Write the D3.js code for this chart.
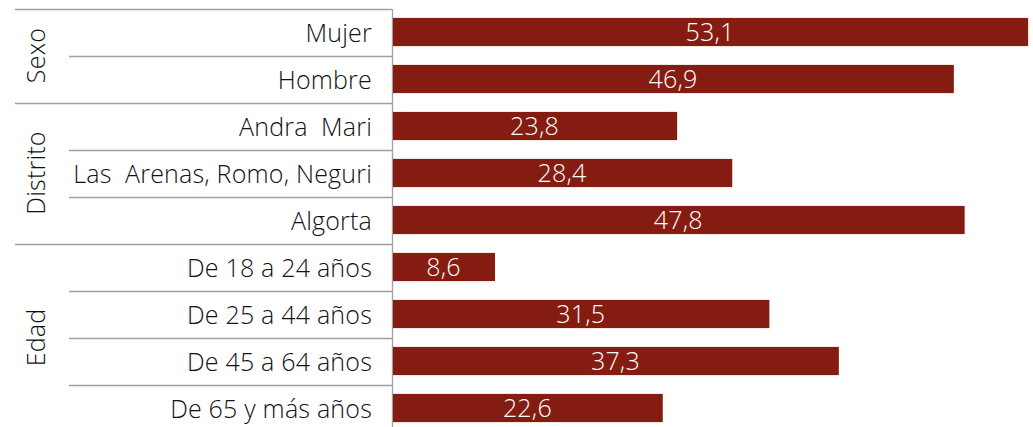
<!DOCTYPE html>
<html>
<head>
<meta charset="utf-8">
<script src="https://cdn.jsdelivr.net/npm/d3@7"></script>
<style>
  body { margin: 0; background: #fff; }
  text { font-family: "Open Sans", "Noto Sans", sans-serif; font-weight: 300; white-space: pre; letter-spacing: 0.2px; }
</style>
</head>
<body>
<div id="chart"></div>
<script>
var groups = ["Sexo", "Distrito", "Edad"];
var categories = ["Mujer", "Hombre", "Andra  Mari", "Las  Arenas, Romo, Neguri", "Algorta",
    "De 18 a 24 años", "De 25 a 44 años", "De 45 a 64 años", "De 65 y más años"];
var categoryGroup = ["Sexo", "Sexo", "Distrito", "Distrito", "Distrito", "Edad", "Edad", "Edad", "Edad"];
var values = [53.1, 46.9, 23.8, 28.4, 47.8, 8.6, 31.5, 37.3, 22.6];

var width = 1033, height = 427,
    axisX = 392,
    topY = 8.5,
    rowH = 47,
    fontSize = "25px";

var svg = d3.select("#chart").append("svg")
    .attr("width", width)
    .attr("height", height);

var x = d3.scaleLinear()
    .domain([0, 53.1])
    .range([axisX, axisX + 53.1 * 11.98]);

var y = d3.scaleBand()
    .domain(categories)
    .range([topY, topY + rowH * categories.length])
    .paddingInner(0.4)
    .paddingOuter(0.2);

var lineColor = "#a0a0a0";

// separators between rows (short) and between groups (long)
var gLines = svg.append("g");
categories.forEach(function(c, i) {
    var yy = Math.round(topY + i * rowH) + 0.5;
    var first = i == 0 || categoryGroup[i] != categoryGroup[i - 1];
    gLines.append("line")
        .attr("x1", first ? 15 : 69)
        .attr("x2", axisX)
        .attr("y1", yy).attr("y2", yy)
        .attr("stroke", lineColor)
        .attr("stroke-width", 1.3);
});
gLines.append("line")
    .attr("x1", axisX + 0.5).attr("x2", axisX + 0.5)
    .attr("y1", Math.round(topY)).attr("y2", height)
    .attr("stroke", lineColor)
    .attr("stroke-width", 1.3);

// bars
svg.append("g").selectAll("rect")
    .data(categories)
    .enter().append("rect")
    .attr("x", x(0) + 1)
    .attr("y", function(d) { return y(d); })
    .attr("width", function(d, i) { return x(values[i]) - x(0) - 1; })
    .attr("height", y.bandwidth())
    .attr("fill", "#851c11");

// value labels
svg.append("g").selectAll("text")
    .data(categories)
    .enter().append("text")
    .attr("x", function(d, i) { return (x(0) + x(values[i])) / 2; })
    .attr("y", function(d) { return y(d) + y.bandwidth() / 2; })
    .attr("dy", "0.37em")
    .attr("text-anchor", "middle")
    .attr("fill", "#fff")
    .style("font-size", fontSize)
    .text(function(d, i) { return d3.format(".1f")(values[i]).replace(".", ","); });

// category labels
svg.append("g").selectAll("text")
    .data(categories)
    .enter().append("text")
    .attr("x", axisX - 20)
    .attr("y", function(d) { return y(d) + y.bandwidth() / 2; })
    .attr("dy", "0.38em")
    .attr("text-anchor", "end")
    .attr("fill", "#111")
    .style("font-size", fontSize)
    .text(function(d) { return d; });

// group labels, rotated
groups.forEach(function(g) {
    var idx = categories.filter(function(c, i) { return categoryGroup[i] == g; });
    var y0 = topY + categories.indexOf(idx[0]) * rowH;
    var y1 = y0 + idx.length * rowH;
    var cy = (y0 + y1) / 2;
    svg.append("text")
        .attr("transform", "translate(45," + cy + ") rotate(-90)")
        .attr("text-anchor", "middle")
        .attr("fill", "#111")
        .style("font-size", fontSize)
        .text(g);
});
</script>
</body>
</html>
